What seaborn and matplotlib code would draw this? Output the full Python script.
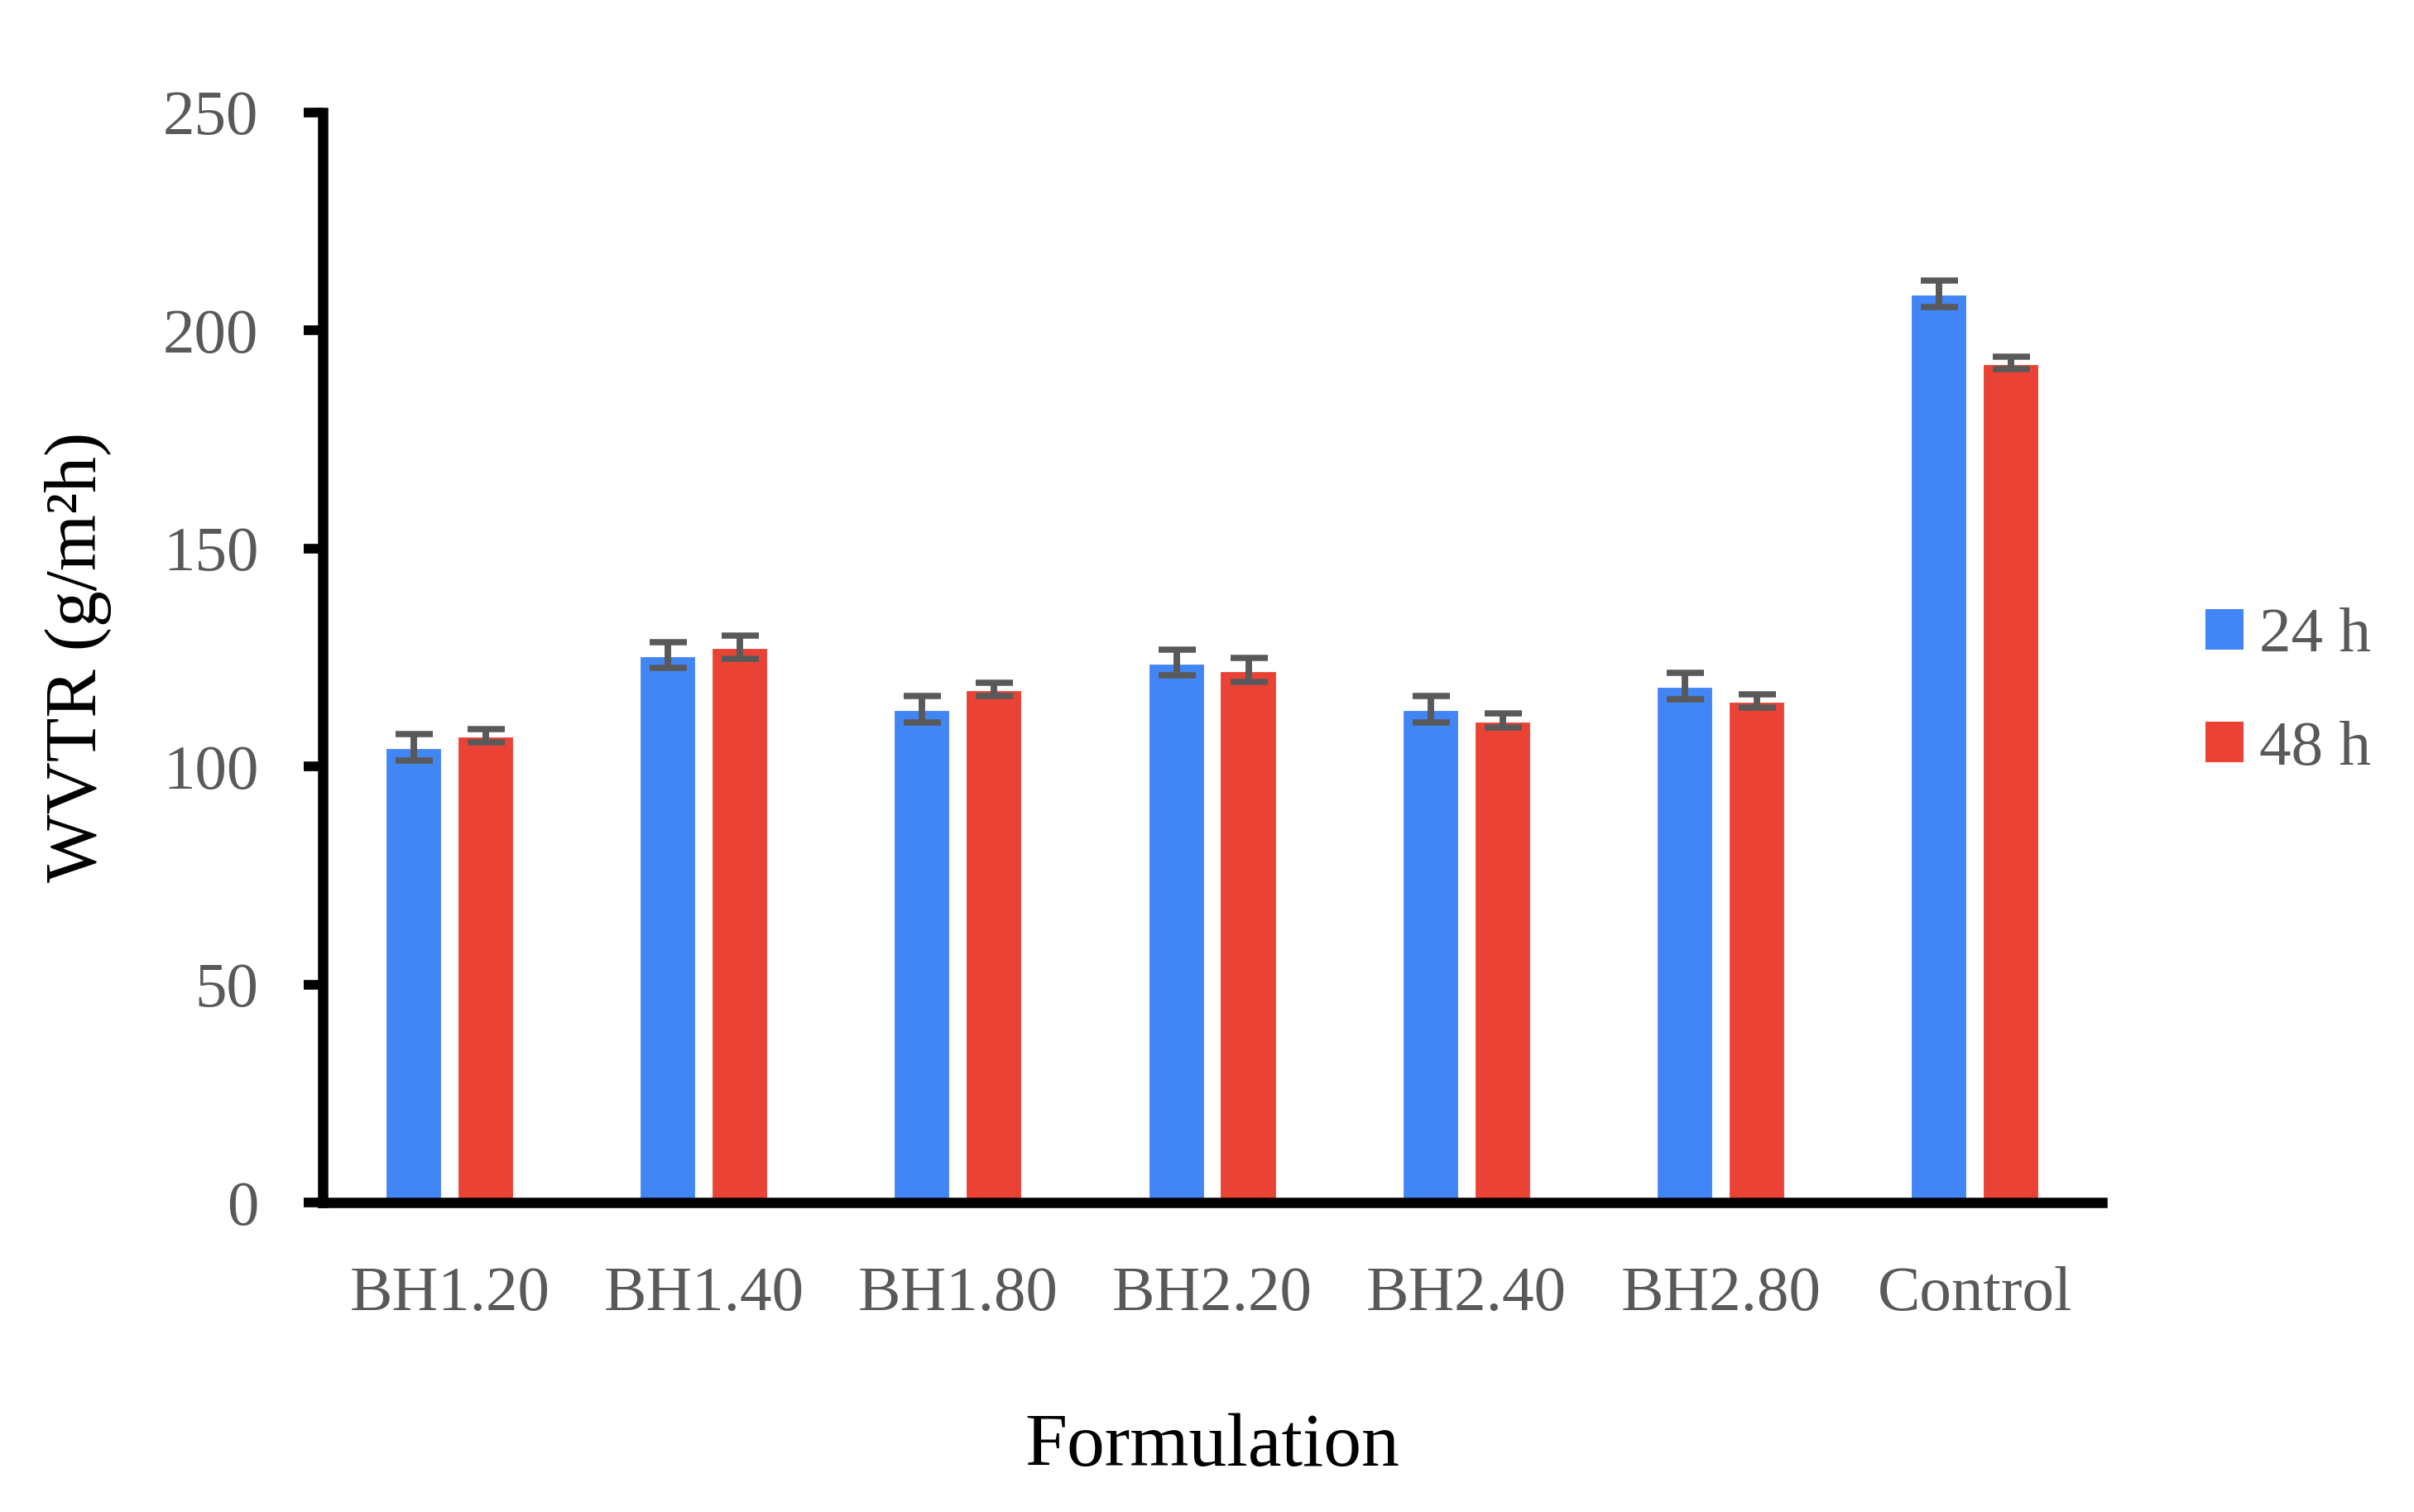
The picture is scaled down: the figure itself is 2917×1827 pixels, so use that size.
import matplotlib
matplotlib.use('Agg')
import matplotlib.pyplot as plt
from matplotlib.patches import Patch
import seaborn as sns
import pandas as pd

# data
formulations = ['BH1.20', 'BH1.40', 'BH1.80', 'BH2.20', 'BH2.40', 'BH2.80', 'Control']
times = ['24 h', '48 h']
wvtr_24h = [104.4, 125.5, 113.1, 123.8, 113.1, 118.4, 208.4]
wvtr_48h = [107.1, 127.3, 117.7, 122.1, 110.5, 115.0, 192.5]
err_24h = [3.1, 3.0, 3.0, 3.0, 3.0, 3.0, 3.0]
err_48h = [1.5, 2.6, 1.5, 2.7, 1.6, 1.5, 1.5]
yticks = [0, 50, 100, 150, 200, 250]

colors = {'24 h': '#4285F4', '48 h': '#EA4335'}
tick_gray = '#595959'

df = pd.DataFrame({
    'Formulation': formulations * 2,
    'Time': [times[0]] * len(formulations) + [times[1]] * len(formulations),
    'WVTR': wvtr_24h + wvtr_48h,
})

sns.set_theme(style='white')
plt.rcParams['font.family'] = ['Liberation Serif', 'DejaVu Serif']

fig = plt.figure(figsize=(2917 / 300, 1827 / 300), dpi=300)
ax = fig.add_axes([0.1337, 0.2047, 0.8708 - 0.1337, 0.9258 - 0.2047])

sns.barplot(data=df, x='Formulation', y='WVTR', hue='Time', order=formulations,
            hue_order=times, palette=colors, width=0.566, gap=0.194,
            errorbar=None, saturation=1, legend=False, ax=ax)

# error bars at the bar centres
for cont, errs in zip(ax.containers, [err_24h, err_48h]):
    xs = [b.get_x() + b.get_width() / 2 for b in cont]
    hs = [b.get_height() for b in cont]
    ax.errorbar(xs, hs, yerr=errs, fmt='none', ecolor=tick_gray,
                elinewidth=1.9, capsize=5.4, capthick=1.8, zorder=5)

ax.set_ylim(0, 250)
ax.set_yticks(yticks)
ax.set_xlim(-0.5, len(formulations) - 0.5)

for side in ['top', 'right']:
    ax.spines[side].set_visible(False)
for side in ['left', 'bottom']:
    ax.spines[side].set_linewidth(3.0)
    ax.spines[side].set_color('black')

ax.tick_params(axis='y', length=5.6, width=2.8, color='black', direction='out',
               left=True, labelsize=18.5, labelcolor=tick_gray, pad=13)
ax.tick_params(axis='x', length=0, labelsize=18.5, labelcolor=tick_gray, pad=18.5)

ax.set_xlabel('Formulation', fontsize=22, color='black', labelpad=26)
ax.set_ylabel('WVTR (g/m²h)', fontsize=21, color='black', labelpad=15)

handles = [Patch(facecolor=colors[t], edgecolor='none', label=t) for t in times]
ax.legend(handles=handles, loc='center left', bbox_to_anchor=(0.9136, 0.5418),
          bbox_transform=fig.transFigure, frameon=False, fontsize=18.5,
          labelcolor=tick_gray, handlelength=0.6, handleheight=0.6,
          handletextpad=0.25, labelspacing=0.88, borderpad=0, borderaxespad=0)

fig.savefig('out.png', dpi=300, facecolor='white')
print('saved out.png')
